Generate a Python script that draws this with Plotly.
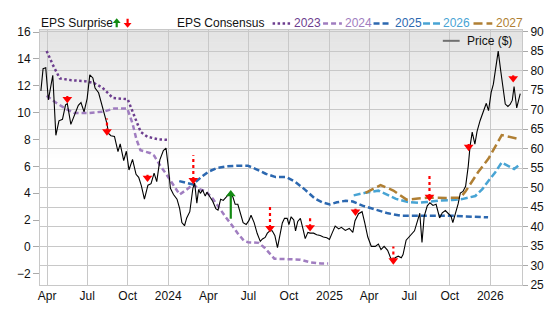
import plotly.graph_objects as go

# ---------------- data ----------------
price_dates = [
    "2023-03-18","2023-03-23","2023-03-29","2023-04-04","2023-04-14","2023-04-21","2023-04-28","2023-05-06",
    "2023-05-13","2023-05-17","2023-05-25","2023-06-03","2023-06-11","2023-06-17","2023-06-24","2023-07-01",
    "2023-07-07","2023-07-14","2023-07-19","2023-07-27","2023-08-03","2023-08-09","2023-08-14","2023-08-19",
    "2023-08-24","2023-09-01","2023-09-09","2023-09-14","2023-09-22","2023-09-28","2023-10-04","2023-10-12",
    "2023-10-20","2023-10-26","2023-11-01","2023-11-08","2023-11-16","2023-11-23","2023-11-30","2023-12-06",
    "2023-12-13","2023-12-21","2023-12-27","2024-01-01","2024-01-06","2024-01-13","2024-01-21","2024-01-27",
    "2024-02-01","2024-02-07","2024-02-12","2024-02-19","2024-02-26","2024-03-01","2024-03-06","2024-03-10",
    "2024-03-14","2024-03-19","2024-03-25","2024-03-29","2024-04-04","2024-04-11","2024-04-18","2024-04-23",
    "2024-04-29","2024-05-05","2024-05-12","2024-05-20","2024-05-27","2024-06-01","2024-06-07","2024-06-13",
    "2024-06-19","2024-06-26","2024-07-02","2024-07-07","2024-07-14","2024-07-21","2024-07-28","2024-08-02",
    "2024-08-08","2024-08-13","2024-08-19","2024-08-24","2024-08-30","2024-09-05","2024-09-10","2024-09-16",
    "2024-09-21","2024-09-27","2024-10-01","2024-10-06","2024-10-12","2024-10-16","2024-10-21","2024-10-27",
    "2024-11-02","2024-11-07","2024-11-13","2024-11-18","2024-11-26","2024-12-03","2024-12-11","2024-12-18",
    "2024-12-26","2025-01-01","2025-01-07","2025-01-14","2025-01-22","2025-01-28","2025-02-06","2025-02-15",
    "2025-02-23","2025-02-28","2025-03-08","2025-03-16","2025-03-22","2025-03-29","2025-04-06","2025-04-15",
    "2025-04-22","2025-04-28","2025-05-05","2025-05-13","2025-05-19","2025-05-25","2025-05-30","2025-06-06",
    "2025-06-13","2025-06-17","2025-06-24","2025-07-03","2025-07-13","2025-07-20","2025-07-25","2025-07-30",
    "2025-08-04","2025-08-11","2025-08-17","2025-08-24","2025-08-31","2025-09-08","2025-09-14","2025-09-21",
    "2025-09-28","2025-10-04","2025-10-08","2025-10-14","2025-10-20","2025-10-25","2025-10-31","2025-11-06",
    "2025-11-12","2025-11-16","2025-11-21","2025-11-27","2025-12-02","2025-12-09","2025-12-17","2025-12-23",
    "2025-12-28","2026-01-03","2026-01-08","2026-01-14","2026-01-19","2026-01-25","2026-01-31","2026-02-04",
    "2026-02-10","2026-02-15","2026-02-20","2026-02-24","2026-03-02","2026-03-10",
]
price_values = [
    74.8,80.5,80.7,72.5,78.8,63.4,67.1,67.5,
    71.2,71.5,66.2,68.6,71.1,71.8,69.4,72.8,
    78.9,78.1,75.5,74.3,71.2,69.0,66.8,63.8,
    63.3,63.1,59.2,61.2,56.9,59.3,54.5,57.2,
    53.4,52.6,50.5,47.0,50.6,51.0,53.7,51.5,
    57.1,59.5,60.1,55.5,49.8,48.2,47.0,44.6,
    41.0,40.2,42.2,43.8,49.8,51.2,46.0,49.5,
    48.5,49.4,47.8,48.8,47.8,46.5,44.6,44.2,
    47.0,46.7,47.6,48.7,47.5,45.7,45.7,43.0,
    41.0,40.5,41.5,42.9,41.0,38.2,36.2,36.8,
    37.2,38.3,38.9,38.9,37.7,34.6,37.7,40.9,
    42.1,42.1,40.5,42.5,41.7,38.9,41.3,42.1,
    39.3,36.9,38.5,38.3,38.3,37.9,37.7,37.3,
    37.1,36.7,38.3,40.1,39.4,39.8,39.0,39.5,
    38.5,41.5,43.3,43.8,41.0,37.3,34.9,34.9,
    35.5,34.1,34.9,33.9,32.2,30.8,32.0,32.4,
    32.0,32.8,36.5,37.7,38.9,41.5,43.4,35.9,
    42.6,45.3,46.1,45.4,45.7,42.2,43.5,44.1,
    43.2,42.6,41.0,43.4,45.8,48.6,49.0,50.3,
    55.5,60.5,64.2,61.1,64.4,67.2,70.0,71.6,
    69.7,74.4,76.5,81.3,85.0,79.7,74.8,71.4,
    70.8,71.3,72.4,75.9,70.4,74.1,
]

eps2023_dates = ["2023-03-31","2023-04-15","2023-04-30","2023-05-26","2023-06-25","2023-07-17","2023-08-05",
                 "2023-08-28","2023-10-01","2023-10-09","2023-10-24","2023-10-31","2023-11-15","2023-12-11","2023-12-31"]
eps2023_values = [14.6,13.5,12.55,12.42,12.35,12.2,11.85,11.1,11.0,10.3,9.1,8.55,8.2,8.01,7.98]

eps2024_dates = ["2023-03-31","2023-04-19","2023-05-12","2023-06-02","2023-07-02","2023-08-09","2023-09-01",
                 "2023-09-30","2023-10-12","2023-10-21","2023-10-30","2023-11-22","2023-11-30","2023-12-13",
                 "2023-12-30","2024-01-13","2024-01-27","2024-02-11","2024-02-27","2024-03-12","2024-03-26",
                 "2024-04-11","2024-04-26","2024-05-11","2024-05-25","2024-06-07","2024-06-21","2024-06-30",
                 "2024-07-24","2024-08-08","2024-08-29","2024-10-06","2024-10-27","2024-11-18","2024-12-13","2024-12-29"]
eps2024_values = [11.26,10.79,10.32,9.97,9.97,10.09,10.32,
                  10.32,9.2,8.0,7.2,6.98,6.8,6.1,
                  5.3,4.6,3.9,4.25,4.65,4.3,4.15,
                  3.6,2.85,2.2,1.6,1.0,0.45,0.35,
                  0.3,-0.1,-0.88,-0.9,-0.95,-1.15,-1.24,-1.24]

eps2025_dates = ["2024-01-26","2024-02-12","2024-02-26","2024-03-16","2024-04-01","2024-04-21","2024-05-14",
                 "2024-06-07","2024-06-30","2024-07-18","2024-08-09","2024-09-01","2024-09-25","2024-10-15",
                 "2024-11-07","2024-11-29","2024-12-17","2025-01-02","2025-01-18","2025-02-07","2025-02-23",
                 "2025-03-17","2025-04-15","2025-05-14","2025-06-13","2025-07-14","2025-08-10","2025-09-10",
                 "2025-10-09","2025-11-06","2025-12-27"]
eps2025_values = [4.9,4.75,4.65,5.2,5.6,5.88,6.0,
                  6.05,6.05,5.8,5.45,5.2,5.2,4.85,
                  4.25,3.6,3.3,3.17,3.32,3.44,3.38,
                  3.07,2.78,2.5,2.32,2.32,2.36,2.32,
                  2.32,2.27,2.2]

eps2026_dates = ["2025-02-25","2025-03-23","2025-04-22","2025-05-11","2025-06-01","2025-06-26","2025-07-21",
                 "2025-08-10","2025-09-06","2025-10-07","2025-10-29","2025-11-28","2025-12-14","2025-12-26",
                 "2026-01-12","2026-01-27","2026-02-24","2026-03-11"]
eps2026_values = [3.84,4.03,4.19,3.91,3.58,3.36,3.28,3.34,3.44,3.49,3.56,3.79,4.3,4.84,5.55,6.29,5.8,6.2]

eps2027_dates = ["2025-03-24","2025-04-27","2025-05-26","2025-06-25","2025-07-21","2025-08-12","2025-09-22",
                 "2025-10-25","2025-11-06","2025-12-05","2025-12-28","2026-01-27","2026-03-09"]
eps2027_values = [4.03,4.6,4.2,3.52,3.6,3.66,3.65,3.66,4.14,5.6,6.58,8.33,8.02]

# EPS surprise markers: date, price level of the arrow head, price level at the end of the stem
surprise_dates = ["2023-05-17","2023-08-15","2023-11-15","2024-02-27","2024-05-22","2024-08-19",
                  "2024-11-18","2025-03-01","2025-05-26","2025-08-16","2025-11-13","2026-02-22"]
surprise_head = [72.7,64.4,52.5,51.9,48.3,39.6,39.8,43.8,31.3,47.6,60.4,78.0]
surprise_stem = [73.8,67.7,53.5,58.3,42.0,45.4,42.8,44.8,34.9,53.5,61.3,78.9]
surprise_dir = ["down","down","down","down","up","down","down","down","down","down","down","down"]

tick_dates = ["2023-04-01","2023-07-01","2023-10-01","2024-01-01","2024-04-01","2024-07-01",
              "2024-10-01","2025-01-01","2025-04-01","2025-07-01","2025-10-01","2026-01-01"]
tick_labels = ["Apr","Jul","Oct","2024","Apr","Jul","Oct","2025","Apr","Jul","Oct","2026"]

series = [
    ("2023", eps2023_dates, eps2023_values, "#6c3d8e", "2.5px,2.5px"),
    ("2024", eps2024_dates, eps2024_values, "#a07dc0", "5px,3px"),
    ("2025", eps2025_dates, eps2025_values, "#2c68b0", "6px,3px"),
    ("2026", eps2026_dates, eps2026_values, "#48a4d4", "7px,3px"),
    ("2027", eps2027_dates, eps2027_values, "#b07f33", "9px,4px"),
]

# ---------------- layout helpers ----------------
W, H = 556, 315
L, R, T, B = 40, 527, 30, 301
FONT = "Liberation Sans, Arial, sans-serif"
RED = "#ff0000"
GREEN = "#138a13"

def px(x):
    return (x - L) / (R - L)

def py(y):
    return (B - y) / (B - T)

def path(points):
    return "M " + " L ".join(f"{px(a):.5f},{py(b):.5f}" for a, b in points) + " Z"

fig = go.Figure()

for name, d, v, col, dash in series:
    fig.add_trace(go.Scatter(x=d, y=v, mode="lines", name=name, yaxis="y",
                             line=dict(color=col, width=2.5, dash=dash), showlegend=False,
                             hoverinfo="skip"))

fig.add_trace(go.Scatter(x=price_dates, y=price_values, mode="lines", name="Price ($)", yaxis="y2",
                         line=dict(color="#000000", width=1.1), showlegend=False))

# surprise stems and heads
for direction, col, dash in [("down", RED, "dot"), ("up", GREEN, "solid")]:
    xs, ys = [], []
    for d, h, s, dr in zip(surprise_dates, surprise_head, surprise_stem, surprise_dir):
        if dr == direction:
            xs += [d, d, None]
            ys += [h, s, None]
    fig.add_trace(go.Scatter(x=xs, y=ys, mode="lines", yaxis="y2", showlegend=False,
                             line=dict(color=col, width=2.2, dash=dash), hoverinfo="skip"))
    hx = [d for d, dr in zip(surprise_dates, surprise_dir) if dr == direction]
    hy = [h for h, dr in zip(surprise_head, surprise_dir) if dr == direction]
    fig.add_trace(go.Scatter(x=hx, y=hy, mode="markers", yaxis="y2", showlegend=False,
                             marker=dict(symbol="triangle-down" if direction == "down" else "triangle-up",
                                         size=8.5, color=col, line=dict(width=0))))

shapes = []
# background gradient of the plot area
n = 40
for i in range(n):
    y0 = 1 - i * 0.5 / n
    y1 = 1 - (i + 1) * 0.5 / n
    c = int(round(227 + (254 - 227) * i / (n - 1)))
    shapes.append(dict(type="rect", xref="paper", yref="paper", x0=0, x1=1, y0=y1, y1=y0 + 0.002,
                       fillcolor=f"rgb({c},{c},{c})", line=dict(width=0), layer="below"))

annotations = []
LEG_Y = 23
annotations.append(dict(text="EPS Surprise", x=px(39), y=py(LEG_Y), xref="paper", yref="paper",
                        xanchor="left", yanchor="middle", showarrow=False,
                        font=dict(family=FONT, size=12, color="#111")))
# legend arrows (green up, red down)
shapes.append(dict(type="path", xref="paper", yref="paper", fillcolor=GREEN, line=dict(width=0),
                   path=path([(113.5, 22.5), (117.5, 17.5), (121.5, 22.5), (118.6, 22.5), (118.6, 27),
                              (116.4, 27), (116.4, 22.5)])))
shapes.append(dict(type="path", xref="paper", yref="paper", fillcolor=RED, line=dict(width=0),
                   path=path([(124.5, 22.5), (128.5, 27.5), (132.5, 22.5), (129.6, 22.5), (129.6, 18),
                              (127.4, 18), (127.4, 22.5)])))
annotations.append(dict(text="EPS Consensus", x=px(176), y=py(LEG_Y), xref="paper", yref="paper",
                        xanchor="left", yanchor="middle", showarrow=False,
                        font=dict(family=FONT, size=12, color="#111")))
leg_x = [(275, 294, 295), (326, 345, 346), (377, 395, 397), (427, 445, 445), (478, 497, 499)]
for (name, d, v, col, dash), (lx0, lx1, tx) in zip(series, leg_x):
    shapes.append(dict(type="line", xref="paper", yref="paper", x0=px(lx0), x1=px(lx1),
                       y0=py(LEG_Y), y1=py(LEG_Y), line=dict(color=col, width=2.5, dash=dash)))
    annotations.append(dict(text=name, x=px(tx), y=py(LEG_Y), xref="paper", yref="paper",
                            xanchor="left", yanchor="middle", showarrow=False,
                            font=dict(family=FONT, size=12, color=col)))
# price legend
shapes.append(dict(type="line", xref="paper", yref="paper", x0=px(447), x1=px(464),
                   y0=py(41.5), y1=py(41.5), line=dict(color="#707070", width=2)))
annotations.append(dict(text="Price ($)", x=px(469), y=py(41.5), xref="paper", yref="paper",
                        xanchor="left", yanchor="middle", showarrow=False,
                        font=dict(family=FONT, size=12, color="#111")))

fig.update_layout(
    width=W, height=H,
    margin=dict(l=L, r=W - R, t=T, b=H - B),
    paper_bgcolor="#ffffff", plot_bgcolor="#ffffff",
    font=dict(family=FONT, size=12, color="#111"),
    showlegend=False,
    shapes=shapes, annotations=annotations,
    xaxis=dict(type="date", range=["2023-03-16", "2026-03-14"], tickvals=tick_dates, ticktext=tick_labels,
               showgrid=True, gridcolor="#c8c8c8", gridwidth=1, ticks="", showline=True, mirror=True,
               linecolor="#c8c8c8", zeroline=False, tickfont=dict(size=12, color="#111")),
    yaxis=dict(range=[-2.84, 16.16], tick0=0, dtick=2, showgrid=False, zeroline=False,
               ticks="outside", ticklen=6, tickcolor="#aaaaaa", showline=True, mirror=True,
               linecolor="#c8c8c8", tickfont=dict(size=12, color="#111")),
    yaxis2=dict(range=[25, 90.4], tick0=25, dtick=5, overlaying="y", side="right", showgrid=True,
                gridcolor="#c8c8c8", zeroline=False, ticks="outside", ticklen=5, tickcolor="#aaaaaa",
                showline=False, tickfont=dict(size=12, color="#111")),
)

fig.write_html("out.html")
